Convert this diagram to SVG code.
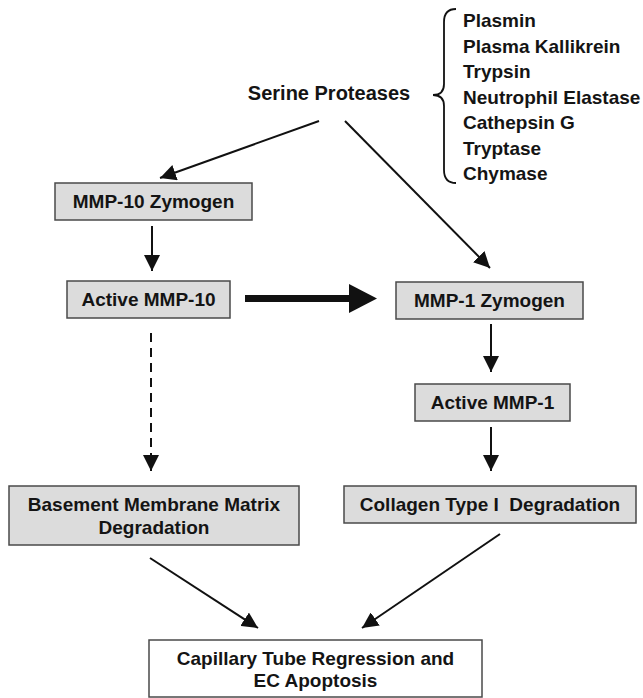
<svg xmlns="http://www.w3.org/2000/svg" width="643" height="698" viewBox="0 0 643 698">
<defs>
<style>
text{font-family:"Liberation Sans",Arial,sans-serif;font-weight:bold;fill:#141414;}
.box{fill:#dcdcdc;stroke:#4a4a4a;stroke-width:1.5;}
.wbox{fill:#ffffff;stroke:#4a4a4a;stroke-width:1.5;}
.lbl{font-size:19px;text-anchor:middle;}
.lst{font-size:19px;}
.ln{stroke:#111;stroke-width:2;fill:none;}
</style>
<marker id="ah" markerUnits="userSpaceOnUse" markerWidth="18" markerHeight="16" refX="16" refY="8" orient="auto">
<path d="M0,0 L16,8 L0,16 Z" fill="#111"/>
</marker>
</defs>
<rect width="643" height="698" fill="#ffffff"/>

<g id="serine">
<text x="329" y="100" style="font-size:20px" text-anchor="middle">Serine Proteases</text>
<path d="M456,9 Q444,9 444,22 L444,84 Q444,95 433,95 Q444,95 444,106 L444,170 Q444,183 456,183" fill="none" stroke="#111" stroke-width="1.8"/>
<text class="lst" x="463" y="27">Plasmin</text>
<text class="lst" x="463" y="52.5">Plasma Kallikrein</text>
<text class="lst" x="463" y="78">Trypsin</text>
<text class="lst" x="463" y="103.5">Neutrophil Elastase</text>
<text class="lst" x="463" y="129">Cathepsin G</text>
<text class="lst" x="463" y="154.5">Tryptase</text>
<text class="lst" x="463" y="180">Chymase</text>
</g>

<g id="mmp10zym">
<rect class="box" x="55" y="183" width="197" height="37"/>
<text class="lbl" x="153.5" y="208">MMP-10 Zymogen</text>
</g>
<g id="activemmp10">
<rect class="box" x="67" y="281" width="163" height="37"/>
<text class="lbl" x="148.5" y="306">Active MMP-10</text>
</g>
<g id="mmp1zym">
<rect class="box" x="396" y="282" width="187" height="37"/>
<text class="lbl" x="489.5" y="307">MMP-1 Zymogen</text>
</g>
<g id="activemmp1">
<rect class="box" x="415" y="384" width="155" height="37"/>
<text class="lbl" x="492.5" y="409">Active MMP-1</text>
</g>
<g id="basement">
<rect class="box" x="9" y="486" width="290" height="59"/>
<text class="lbl" x="154" y="511">Basement Membrane Matrix</text>
<text class="lbl" x="154" y="534">Degradation</text>
</g>
<g id="collagen">
<rect class="box" x="344" y="486" width="292" height="37"/>
<text class="lbl" x="490" y="511" xml:space="preserve">Collagen Type I  Degradation</text>
</g>
<g id="capillary">
<rect class="wbox" x="149" y="640" width="333" height="57"/>
<text class="lbl" x="315.5" y="665">Capillary Tube Regression and</text>
<text class="lbl" x="315.5" y="687">EC Apoptosis</text>
</g>

<g id="connectors">
<line class="ln" x1="319" y1="121" x2="160" y2="178" marker-end="url(#ah)"/>
<line class="ln" x1="345" y1="121" x2="490" y2="268" marker-end="url(#ah)"/>
<line class="ln" x1="152" y1="226" x2="152" y2="271" marker-end="url(#ah)"/>
<line x1="245" y1="298.5" x2="352" y2="298.5" stroke="#111" stroke-width="7"/>
<path d="M349,284 L377,298.5 L349,313 Z" fill="#111"/>
<line class="ln" x1="491" y1="324" x2="491" y2="372" marker-end="url(#ah)"/>
<line class="ln" x1="491" y1="427" x2="491" y2="471" marker-end="url(#ah)"/>
<line class="ln" x1="151" y1="333" x2="151" y2="455" stroke-dasharray="9,6"/>
<line class="ln" x1="151" y1="455" x2="151" y2="471" marker-end="url(#ah)"/>
<line class="ln" x1="150" y1="558" x2="258" y2="628" marker-end="url(#ah)"/>
<line class="ln" x1="500" y1="534" x2="362" y2="628" marker-end="url(#ah)"/>
</g>
</svg>
